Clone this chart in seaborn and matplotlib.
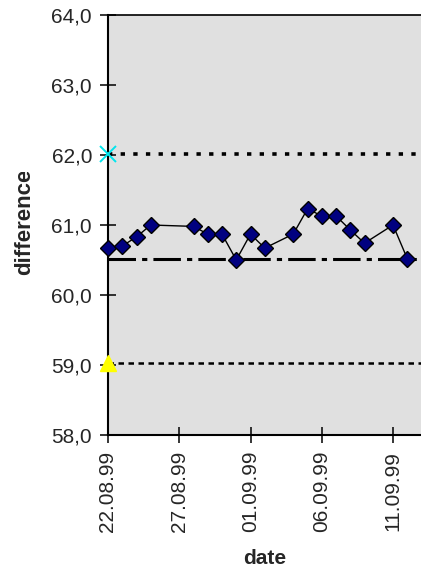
import pandas as pd
import matplotlib
matplotlib.use("Agg")
import matplotlib.pyplot as plt
import seaborn as sns
from matplotlib.transforms import Bbox

# Values
dates = ["22.08.99", "23.08.99", "24.08.99", "25.08.99", "28.08.99", "29.08.99",
         "30.08.99", "31.08.99", "01.09.99", "02.09.99", "04.09.99", "05.09.99",
         "06.09.99", "07.09.99", "08.09.99", "09.09.99", "11.09.99", "12.09.99"]
difference = [60.67, 60.70, 60.83, 61.00, 60.98, 60.87, 60.87, 60.50, 60.87,
              60.67, 60.87, 61.23, 61.13, 61.13, 60.93, 60.74, 61.00, 60.52]

mean_value = 60.52
upper_limit = 62.02
lower_limit = 59.03

x_tick_labels = ["22.08.99", "27.08.99", "01.09.99", "06.09.99", "11.09.99"]
y_ticks = [58.0, 59.0, 60.0, 61.0, 62.0, 63.0, 64.0]
y_tick_labels = ["58,0", "59,0", "60,0", "61,0", "62,0", "63,0", "64,0"]
x_range = ["22.08.99", "14.09.99"]

df = pd.DataFrame({"date": pd.to_datetime(dates, format="%d.%m.%y"),
                   "difference": difference})
x_ticks = pd.to_datetime(x_tick_labels, format="%d.%m.%y")
x_lim = pd.to_datetime(x_range, format="%d.%m.%y")

sns.set_style("white")
plt.rcParams["font.family"] = ["Liberation Sans", "DejaVu Sans"]

W, H = 421, 567
fig = plt.figure(figsize=(W / 100, H / 100), dpi=100)
px_per_day = 14.25
n_days = (x_lim[1] - x_lim[0]).days
ax = fig.add_axes([108 / W, 1 - 435 / H, n_days * px_per_day / W, 420 / H])
ax.set_facecolor("#e0e0e0")

# control limits and mean
ax.axhline(upper_limit, color="black", lw=2.6, linestyle=(0, (1.2, 2.3)), zorder=2)
ax.axhline(mean_value, color="black", lw=2.2, linestyle=(0, (9, 2, 1.7, 2)), zorder=2)
ax.axhline(lower_limit, color="black", lw=1.8, linestyle=(0, (2.2, 1.8)), zorder=2)

# measured series
sns.lineplot(data=df, x="date", y="difference", ax=ax, color="black", lw=1,
             marker="D", markersize=8, markerfacecolor="#000080",
             markeredgecolor="black", markeredgewidth=1, clip_on=False, zorder=4)

# limit markers at the start
ax.plot(x_lim[0], upper_limit, marker="x", color="#00e5ee", markersize=11,
        markeredgewidth=1.4, clip_on=False, zorder=5)
ax.plot(x_lim[0], lower_limit, marker="^", color="#ffff00", markersize=12,
        markeredgecolor="#ffff00", clip_on=False, zorder=5)

ax.set_xlim(x_lim[0], x_lim[1])
ax.set_ylim(y_ticks[0], y_ticks[-1])
ax.set_xticks(x_ticks)
ax.set_xticklabels(x_tick_labels, rotation=90, ha="center", va="top", fontsize=15)
ax.set_yticks(y_ticks)
ax.set_yticklabels(y_tick_labels, fontsize=15)
ax.tick_params(axis="both", direction="inout", length=11, width=1.1, color="black",
               pad=6, left=True, bottom=True)

for side in ["left", "bottom", "top"]:
    ax.spines[side].set_color("black")
    ax.spines[side].set_linewidth(1.5)
ax.spines["top"].set_linewidth(1.2)
ax.spines["right"].set_visible(False)

ax.set_xlabel("")
ax.set_ylabel("")
fig.text(265 / W, 1 - 558 / H, "date", ha="center", va="center",
         fontsize=15, fontweight="bold")
ylab = fig.text(25 / W, 1 - 222 / H, "difference", rotation=90, ha="center",
                va="center", fontsize=16, fontweight="bold")
ylab.set_clip_on(True)
ylab.set_clip_box(Bbox.from_extents(0, 0, W, H - 172))

fig.savefig("out.png", dpi=100)
